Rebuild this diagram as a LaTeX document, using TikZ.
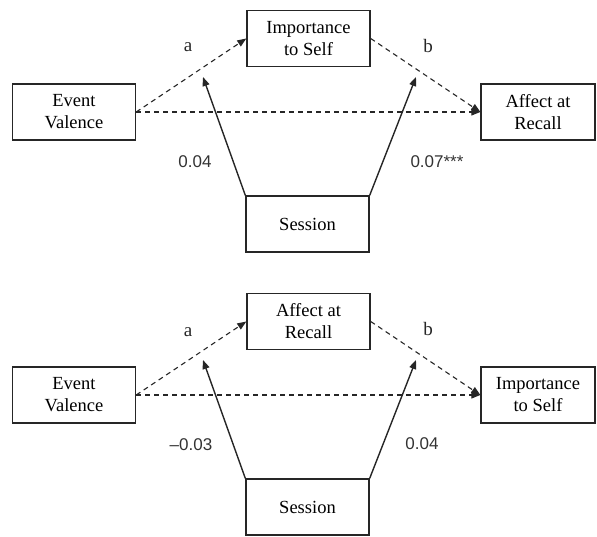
\documentclass[tikz,border=0pt]{standalone}
\usepackage{fontspec}
\setmainfont{Liberation Serif}
\newfontfamily\numfont{Liberation Sans}
\usetikzlibrary{arrows.meta}
\tikzset{
  box/.style={draw=black!85, line width=1.4pt, minimum width=123pt, minimum height=56pt,
    align=center, inner sep=0pt, font=\fontsize{18.5}{22}\selectfont},
  dasharrow/.style={draw=black!85, line width=1.1pt, dash pattern=on 5pt off 4pt,
    -{Triangle[length=9pt,width=7pt]}},
  solidarrow/.style={draw=black!85, line width=1.4pt, -{Triangle[length=9pt,width=7pt]}},
  letterlbl/.style={font=\fontsize{19}{20}\selectfont, text=black!85},
  numlbl/.style={font=\numfont\fontsize{17}{19}\selectfont, text=black!80}
}
\begin{document}
\begin{tikzpicture}[x=1pt,y=-1pt]
\useasboundingbox (0,0) rectangle (597,536);
% top diagram
\node[box] (ev1) at (74,112) {Event\\Valence};
\node[box] (imp1) at (308.5,38.5) {Importance\\to Self};
\node[box, minimum width=114pt] (aff1) at (538,112) {Affect at\\Recall};
\node[box] (ses1) at (307.5,224) {Session};
\coordinate (m1) at (203,77);
\coordinate (n1) at (416,77);
\draw[dasharrow] (ev1.east) -- (imp1.west);
\draw[dasharrow] (ev1.east) -- (aff1.west);
\draw[dasharrow] (imp1.east) -- (aff1.west);
\draw[solidarrow] (ses1.north west) -- (m1);
\draw[solidarrow] (ses1.north east) -- (n1);
\node[letterlbl] (la1) at (188,47) {a};
\node[letterlbl] (lb1) at (428,46) {b};
\node[numlbl] (lc1) at (195,162) {0.04};
\node[numlbl] (ld1) at (437,162) {0.07***};
% bottom diagram
\node[box] (ev2) at (74,395) {Event\\Valence};
\node[box] (aff2) at (308.5,321.5) {Affect at\\Recall};
\node[box, minimum width=114pt] (imp2) at (538,395) {Importance\\to Self};
\node[box] (ses2) at (307.5,507) {Session};
\coordinate (m2) at (203,360);
\coordinate (n2) at (416,360);
\draw[dasharrow] (ev2.east) -- (aff2.west);
\draw[dasharrow] (ev2.east) -- (imp2.west);
\draw[dasharrow] (aff2.east) -- (imp2.west);
\draw[solidarrow] (ses2.north west) -- (m2);
\draw[solidarrow] (ses2.north east) -- (n2);
\node[letterlbl] (la2) at (188,332) {a};
\node[letterlbl] (lb2) at (428,329) {b};
\node[numlbl] (lc2) at (191,445) {–0.03};
\node[numlbl] (ld2) at (422,444) {0.04};
\end{tikzpicture}
\end{document}
